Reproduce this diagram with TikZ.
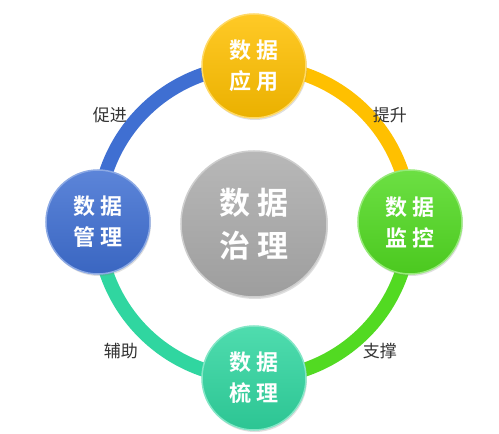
\documentclass[tikz,border=0pt]{standalone}
\usepackage{fontspec}
\usepackage{tikz}
\usetikzlibrary{positioning,backgrounds,shadows}
\newfontfamily\cjk[BoldFont={* Bold}]{Noto Sans CJK SC}
\definecolor{bluemg}{HTML}{3F6FD2}
\definecolor{goldap}{HTML}{FFC000}
\definecolor{greenmn}{HTML}{52DA22}
\definecolor{tealcb}{HTML}{30D6A0}
\definecolor{grayhub}{HTML}{A6A6A6}
\definecolor{lbltext}{HTML}{333333}

\begin{document}
\begin{tikzpicture}[
  hub/.style={circle,minimum size=146pt,inner sep=0pt,align=center,text=white,
    top color=grayhub!80!white,bottom color=grayhub!95!black,draw=grayhub!55!white,line width=1.5pt,
    drop shadow={opacity=0.25,shadow xshift=1pt,shadow yshift=-2pt},
    font=\cjk\bfseries\fontsize{31}{43}\selectfont},
  sat/.style={circle,minimum size=104pt,inner sep=0pt,align=center,text=white,
    top color=#1!85!white,bottom color=#1!92!black,draw=#1!60!white,line width=1.5pt,
    drop shadow={opacity=0.25,shadow xshift=1pt,shadow yshift=-2pt},
    font=\cjk\bfseries\fontsize{22}{31}\selectfont},
  lbl/.style={text=lbltext,font=\cjk\fontsize{17}{20}\selectfont},
  ring/.style={line width=14pt}
]
\useasboundingbox (-254pt,-212pt) rectangle (245pt,222pt);
\node[hub] (gov) at (0,-2pt) {数\hspace{0.2em}据\\治\hspace{0.2em}理};
\node[sat=goldap] (app) at (90:156pt) {数\hspace{0.25em}据\\应\hspace{0.25em}用};
\node[sat=greenmn] (mon) at (0:156pt) {数\hspace{0.25em}据\\监\hspace{0.25em}控};
\node[sat=tealcb] (comb) at (-90:156pt) {数\hspace{0.25em}据\\梳\hspace{0.25em}理};
\node[sat=bluemg] (mgmt) at (180:156pt) {数\hspace{0.25em}据\\管\hspace{0.25em}理};
\node[lbl] (promote) at (-144pt,107pt) {促进};
\node[lbl] (lift) at (136pt,107pt) {提升};
\node[lbl] (assist) at (-133pt,-129pt) {辅助};
\node[lbl] (support) at (126pt,-129pt) {支撑};
\begin{scope}[on background layer]
  \fill[white] (-254pt,-212pt) rectangle (245pt,222pt);
  \draw[ring,bluemg] (mgmt.center) to[out=90,in=180] (app.center);
  \draw[ring,goldap] (app.center) to[out=0,in=90] (mon.center);
  \draw[ring,greenmn] (mon.center) to[out=-90,in=0] (comb.center);
  \draw[ring,tealcb] (comb.center) to[out=180,in=-90] (mgmt.center);
\end{scope}
\end{tikzpicture}
\end{document}
